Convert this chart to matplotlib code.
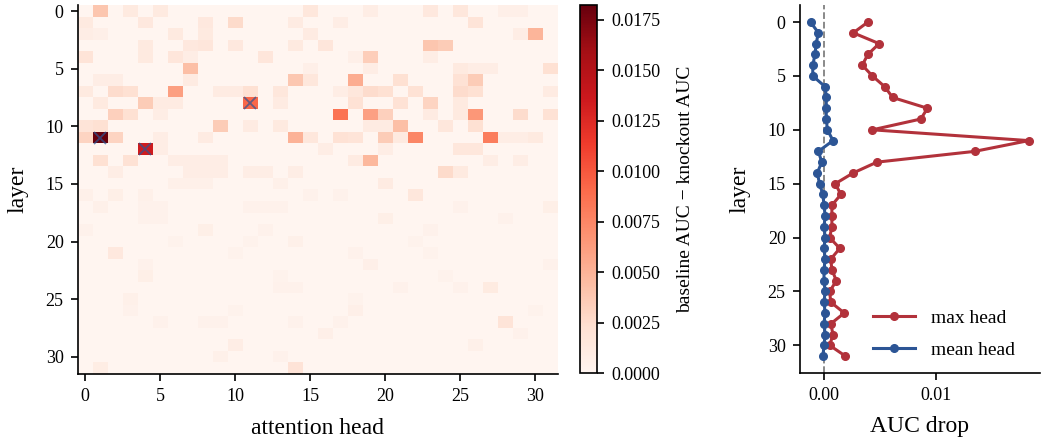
import numpy as np
import matplotlib
matplotlib.use("Agg")
from matplotlib import pyplot as plt

plt.rcParams["font.family"] = ["Liberation Serif", "DejaVu Serif"]

N_LAYERS = 32
N_HEADS = 32

# per-layer knocked-out heads that show up in the heatmap: {layer: {head: auc drop}}
head_drops = {
    0: {1: 0.0039, 3: 0.0012, 5: 0.0012, 15: 0.0015, 19: 0.0008, 23: 0.0014, 25: 0.0015, 28: 0.0006, 29: 0.0006},
    1: {0: 0.0012, 4: 0.0014, 8: 0.0014, 10: 0.0026, 14: 0.0010, 17: 0.0008, 26: 0.0018},
    2: {0: 0.0008, 1: 0.0006, 6: 0.0012, 8: 0.0012, 15: 0.0010, 29: 0.0008, 30: 0.0049},
    3: {4: 0.0012, 7: 0.0014, 8: 0.0016, 10: 0.0014, 14: 0.0012, 16: 0.0016, 23: 0.0039, 24: 0.0035},
    4: {0: 0.0018, 4: 0.0012, 6: 0.0016, 7: 0.0008, 12: 0.0016, 18: 0.0006, 19: 0.0034, 23: 0.0008},
    5: {7: 0.0043, 15: 0.0006, 19: 0.0008, 25: 0.0012, 26: 0.0008, 27: 0.0008, 31: 0.0022},
    6: {1: 0.0008, 2: 0.0008, 7: 0.0010, 14: 0.0038, 15: 0.0015, 18: 0.0054, 21: 0.0022, 25: 0.0020, 26: 0.0035},
    7: {0: 0.0012, 2: 0.0025, 3: 0.0022, 6: 0.0061, 9: 0.0010, 10: 0.0010, 11: 0.0022, 13: 0.0015,
        17: 0.0008, 18: 0.0015, 19: 0.0025, 20: 0.0022, 22: 0.0020, 25: 0.0025, 26: 0.0022, 31: 0.0010},
    8: {1: 0.0012, 4: 0.0035, 5: 0.0010, 6: 0.0010, 11: 0.0092, 13: 0.0010, 18: 0.0020, 21: 0.0020, 23: 0.0030, 25: 0.0012},
    9: {2: 0.0032, 3: 0.0022, 5: 0.0008, 17: 0.0086, 19: 0.0060, 20: 0.0032, 23: 0.0010, 25: 0.0012,
        26: 0.0065, 29: 0.0025, 31: 0.0020},
    10: {0: 0.0018, 1: 0.0022, 9: 0.0035, 11: 0.0010, 13: 0.0012, 19: 0.0010, 20: 0.0010, 21: 0.0043, 24: 0.0015, 26: 0.0022},
    11: {0: 0.0030, 1: 0.0182, 2: 0.0030, 5: 0.0008, 8: 0.0010, 14: 0.0050, 15: 0.0015, 17: 0.0020, 18: 0.0018,
         20: 0.0035, 21: 0.0012, 22: 0.0075, 27: 0.0080, 28: 0.0008, 29: 0.0008, 30: 0.0012},
    12: {4: 0.0134, 5: 0.0008, 16: 0.0008, 20: 0.0008, 25: 0.0015, 26: 0.0015},
    13: {1: 0.0022, 3: 0.0020, 6: 0.0008, 7: 0.0008, 8: 0.0008, 9: 0.0008, 18: 0.0010, 19: 0.0047, 27: 0.0008, 29: 0.0008},
    14: {2: 0.0008, 7: 0.0008, 8: 0.0008, 9: 0.0008, 11: 0.0008, 12: 0.0008, 14: 0.0008, 24: 0.0026, 25: 0.0012},
    15: {6: 0.0005, 7: 0.0005, 8: 0.0005, 13: 0.0005, 20: 0.0010},
    16: {0: 0.0005, 2: 0.0007, 4: 0.0005, 15: 0.0004, 17: 0.0004, 22: 0.0015},
    17: {1: 0.0005, 4: 0.0004, 5: 0.0004, 11: 0.0004, 12: 0.0004, 13: 0.0004, 25: 0.0004, 31: 0.0007},
    18: {4: 0.0004, 5: 0.0004, 20: 0.0007, 28: 0.0004},
    19: {0: 0.0004, 8: 0.0007, 12: 0.0004, 23: 0.0004},
    20: {6: 0.0003, 11: 0.0003, 14: 0.0005, 22: 0.0003},
    21: {2: 0.0014, 10: 0.0003, 18: 0.0004, 23: 0.0003},
    22: {4: 0.0004, 19: 0.0006, 31: 0.0004},
    23: {4: 0.0007, 13: 0.0003, 24: 0.0003},
    24: {13: 0.0004, 14: 0.0004, 21: 0.0004, 25: 0.0004, 27: 0.0011},
    25: {3: 0.0005, 18: 0.0003},
    26: {3: 0.0004, 10: 0.0003, 18: 0.0006, 30: 0.0003},
    27: {5: 0.0004, 8: 0.0004, 9: 0.0004, 14: 0.0004, 17: 0.0004, 28: 0.0018},
    28: {16: 0.0006, 29: 0.0004},
    29: {10: 0.0008, 26: 0.0005},
    30: {9: 0.0005, 13: 0.0004},
    31: {1: 0.0009, 14: 0.0019},
}

# mean drop over all heads of a layer
mean_head = [-0.0012, -0.0005, -0.0007, -0.0008, -0.0010, -0.0010, 0.0001, 0.0002,
             0.0002, 0.0002, 0.0003, 0.0008, -0.0005, -0.0002, -0.0006, -0.0004,
             -0.0001, 0.0000, 0.0001, 0.0000, 0.0001, 0.0000, 0.0001, 0.0000,
             0.0000, 0.0001, 0.0000, 0.0001, 0.0000, 0.0001, 0.0000, -0.0001]

RED = "#b2323b"
BLUE = "#2c5595"

heat = np.zeros((N_LAYERS, N_HEADS))
for layer, heads in head_drops.items():
    for head, v in heads.items():
        heat[layer, head] = v
max_head = heat.max(axis=1)
layers = np.arange(N_LAYERS)

fig = plt.figure(figsize=(10.48, 4.47), dpi=100)
ax1 = fig.add_axes([0.074, 0.163, 0.458, 0.825])
cax = fig.add_axes([0.553, 0.165, 0.017, 0.823])
ax2 = fig.add_axes([0.763, 0.166, 0.229, 0.822])

im = ax1.imshow(heat, cmap="Reds", vmin=0, vmax=heat.max(), aspect="auto", interpolation="nearest")
# top three heads
top = np.argsort(heat.ravel())[::-1][:3]
ly, hx = np.unravel_index(top, heat.shape)
ax1.plot(hx, ly, "x", color=BLUE, alpha=0.7, ms=9, mew=1.3)

ax1.set_xticks(range(0, 31, 5))
ax1.set_yticks(range(0, 31, 5))
ax1.set_xlabel("attention head", fontsize=17, labelpad=9)
ax1.set_ylabel("layer", fontsize=17, labelpad=12)
for s in ("top", "right"):
    ax1.spines[s].set_visible(False)

cb = fig.colorbar(im, cax=cax)
cb.set_ticks(np.arange(0, 0.0176, 0.0025))
cb.ax.yaxis.set_major_formatter(matplotlib.ticker.FormatStrFormatter("%.4f"))
cb.set_label("baseline AUC \u2212 knockout AUC", fontsize=14, labelpad=12)
cb.outline.set_linewidth(1.2)

ax2.axvline(0, color="gray", ls="--", lw=1.3, zorder=0)
ax2.plot(max_head, layers, "-o", color=RED, lw=2.2, ms=5.5, label="max head")
ax2.plot(mean_head, layers, "-o", color=BLUE, lw=2.2, ms=5.5, label="mean head")
ax2.invert_yaxis()
ax2.set_yticks(range(0, 31, 5))
ax2.set_xticks([0.0, 0.01])
ax2.set_xticklabels(["0.00", "0.01"])
ax2.set_xlabel("AUC drop", fontsize=17, labelpad=9)
ax2.set_ylabel("layer", fontsize=17, labelpad=12)
for s in ("top", "right"):
    ax2.spines[s].set_visible(False)
ax2.legend(loc="lower right", frameon=False, fontsize=14, handlelength=2.2,
           labelspacing=0.75, bbox_to_anchor=(0.97, -0.01))

for ax in (ax1, ax2, cax):
    ax.tick_params(labelsize=13, width=1.2, length=5, pad=5)
for ax in (ax1, ax2):
    for s in ("left", "bottom"):
        ax.spines[s].set_linewidth(1.2)

fig.savefig("out.png", dpi=100)
